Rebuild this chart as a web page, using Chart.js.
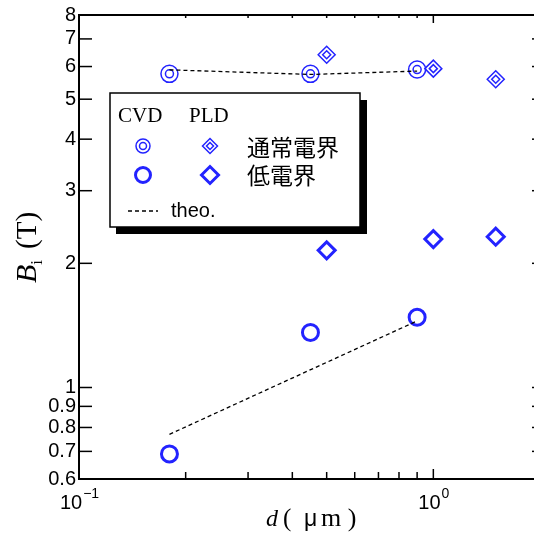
<!DOCTYPE html>
<html>
<head>
<meta charset="utf-8">
<script src="https://cdn.jsdelivr.net/npm/chart.js@4/dist/chart.umd.min.js"></script>
<style>
  html, body { margin: 0; padding: 0; overflow: hidden; background: #fff; width: 534px; height: 533px; }
  #wrap { width: 541px; height: 533px; }
</style>
</head>
<body>
<div id="wrap"><canvas id="c" width="541" height="533"></canvas></div>
<script>
// d (um) values and B_i (T) values
const cvdD = [0.18, 0.45, 0.9];
const cvdNormal = [5.76, 5.76, 5.9];
const cvdLow = [0.69, 1.36, 1.48];
const pldD = [0.5, 1.0, 1.5];
const pldNormal = [6.41, 5.93, 5.59];
const pldLow = [2.15, 2.29, 2.32];
const theoD = [0.18, 0.45, 0.9];
const theoNormal = [5.89, 5.74, 5.85];
const theoLowD = [0.18, 0.9];
const theoLow = [0.77, 1.45];

// axis ticks
const yTicks = [0.6, 0.7, 0.8, 0.9, 1, 2, 3, 4, 5, 6, 7, 8];
const xTicks = [0.1, 0.2, 0.3, 0.4, 0.5, 0.6, 0.7, 0.8, 0.9, 1, 2];
const xMajor = [0.1, 1];
const xLabelExp = ['−1', '0'];

const BLUE = 'rgb(35,35,255)';
const xy = (xs, ys) => xs.map((x, i) => ({ x: x, y: ys[i] }));

function marks(data, style, r, w) {
  return {
    data: data,
    showLine: false,
    pointStyle: style,
    pointRadius: r,
    pointBorderWidth: w,
    pointBorderColor: BLUE,
    pointBackgroundColor: 'rgba(0,0,0,0)'
  };
}
function theo(data) {
  return {
    data: data,
    showLine: true,
    borderColor: '#000',
    borderWidth: 1.3,
    borderDash: [4, 3],
    pointRadius: 0
  };
}

// little helpers for the hand drawn parts (frame, legend, titles)
function seg(ctx, x1, y1, x2, y2) {
  ctx.beginPath(); ctx.moveTo(x1, y1); ctx.lineTo(x2, y2); ctx.stroke();
}
function circ(ctx, x, y, r, w) {
  ctx.lineWidth = w; ctx.beginPath(); ctx.arc(x, y, r, 0, Math.PI * 2); ctx.stroke();
}
function diam(ctx, x, y, r, w) {
  ctx.lineWidth = w; ctx.beginPath();
  ctx.moveTo(x - r, y); ctx.lineTo(x, y - r); ctx.lineTo(x + r, y); ctx.lineTo(x, y + r);
  ctx.closePath(); ctx.stroke();
}

const frame = {
  id: 'frame',
  afterDraw(chart) {
    const { ctx, chartArea: a, scales: { x, y } } = chart;
    ctx.save();
    ctx.strokeStyle = '#000';
    ctx.lineWidth = 2;
    seg(ctx, a.left, a.top, a.right, a.top);
    seg(ctx, a.right, a.top, a.right, a.bottom);

    // ticks pointing inwards
    ctx.lineWidth = 1.5;
    yTicks.forEach(v => {
      const py = y.getPixelForValue(v);
      seg(ctx, a.left, py, a.left + 13, py);
      seg(ctx, a.right - 8, py, a.right, py);
    });
    xTicks.forEach(v => {
      const px = x.getPixelForValue(v);
      const big = xMajor.includes(v);
      seg(ctx, px, a.bottom, px, a.bottom - (big ? 10 : 7));
      seg(ctx, px, a.top, px, a.top + (big ? 8 : 3));
    });

    // x tick labels 10^-1, 10^0
    ctx.fillStyle = '#000';
    ctx.textBaseline = 'alphabetic';
    ctx.textAlign = 'left';
    xMajor.forEach((v, i) => {
      const px = x.getPixelForValue(v);
      ctx.font = '20px "Liberation Sans"';
      const wb = ctx.measureText('10').width;
      ctx.font = '14px "Liberation Sans"';
      const we = ctx.measureText(xLabelExp[i]).width;
      const x0 = px - (wb + we) / 2;
      ctx.font = '20px "Liberation Sans"';
      ctx.fillText('10', x0, 509);
      ctx.font = '14px "Liberation Sans"';
      ctx.fillText(xLabelExp[i], x0 + wb + 1, 498);
    });

    // x title: d ( μ m)
    const by = 526;
    ctx.font = 'italic 24px "Liberation Serif"';
    ctx.fillText('d', 266, by);
    ctx.font = '25px "Liberation Serif"';
    ctx.fillText('(', 283, by);
    ctx.font = '23px "Liberation Sans"';
    ctx.fillText('μ', 304, by);
    ctx.font = '26px "Liberation Serif"';
    ctx.fillText('m )', 321, by);

    // y title: B_i (T), rotated
    ctx.save();
    ctx.translate(36, 283);
    ctx.rotate(-Math.PI / 2);
    let tx = 0;
    ctx.font = 'italic 30px "Liberation Serif"';
    ctx.fillText('B', tx, 0); tx += ctx.measureText('B').width;
    ctx.font = '17px "Liberation Serif"';
    ctx.fillText('i', tx, 6); tx += ctx.measureText('i').width + 11;
    ctx.font = '29px "Liberation Serif"';
    ctx.fillText('(T)', tx, 0);
    ctx.restore();

    // legend box with shadow
    const L = 110, T = 93, R = 360, B = 227;
    ctx.fillStyle = '#000';
    ctx.fillRect(L + 6, T + 7, R - L + 1, B - T);
    ctx.fillStyle = '#fff';
    ctx.fillRect(L, T, R - L, B - T);
    ctx.strokeStyle = '#000';
    ctx.lineWidth = 1.5;
    ctx.strokeRect(L, T, R - L, B - T);

    ctx.fillStyle = '#000';
    ctx.font = '21px "Liberation Serif"';
    ctx.fillText('CVD', 118, 122);
    ctx.fillText('PLD', 189, 122);

    ctx.strokeStyle = BLUE;
    circ(ctx, 143, 146, 7, 1.5);
    circ(ctx, 143, 146, 3.5, 1.5);
    diam(ctx, 210, 146, 7.5, 1.5);
    diam(ctx, 210, 146, 3.5, 1.5);
    circ(ctx, 143, 175, 7.5, 3);
    diam(ctx, 210, 175, 8.5, 3);

    ctx.fillStyle = '#000';
    ctx.font = '23px "Noto Sans CJK JP"';
    ctx.textBaseline = 'middle';
    ctx.fillText('通常電界', 247, 147);
    ctx.fillText('低電界', 247, 175);

    ctx.strokeStyle = '#000';
    ctx.lineWidth = 1.3;
    ctx.setLineDash([4, 3]);
    seg(ctx, 128, 211, 158, 211);
    ctx.setLineDash([]);
    ctx.font = '20px "Liberation Sans"';
    ctx.fillText('theo.', 171, 211);
    ctx.restore();
  }
};

new Chart(document.getElementById('c'), {
  type: 'scatter',
  data: {
    datasets: [
      theo(xy(theoD, theoNormal)),
      theo(xy(theoLowD, theoLow)),
      marks(xy(cvdD, cvdNormal), 'circle', 8.5, 1.5),
      marks(xy(cvdD, cvdNormal), 'circle', 4, 1.5),
      marks(xy(cvdD, cvdLow), 'circle', 8, 3),
      marks(xy(pldD, pldNormal), 'rectRot', 8.5, 1.5),
      marks(xy(pldD, pldNormal), 'rectRot', 4, 1.5),
      marks(xy(pldD, pldLow), 'rectRot', 8.5, 3)
    ]
  },
  options: {
    responsive: false,
    animation: false,
    devicePixelRatio: 1,
    events: [],
    layout: { autoPadding: false, padding: { top: 13, right: 1, bottom: 0, left: 0 } },
    plugins: { legend: { display: false }, tooltip: { enabled: false } },
    scales: {
      x: {
        type: 'logarithmic',
        min: 0.1,
        max: 2,
        grid: { display: false },
        border: { display: true, color: '#000', width: 2 },
        ticks: { display: false },
        afterFit: s => { s.height = 54; }
      },
      y: {
        type: 'logarithmic',
        min: 0.6,
        max: 8,
        grid: { display: false, drawTicks: false },
        border: { display: true, color: '#000', width: 2 },
        ticks: {
          color: '#000',
          font: { family: 'Liberation Sans', size: 20 },
          padding: 3,
          autoSkip: false,
          callback: v => String(v)
        },
        afterBuildTicks: s => { s.ticks = yTicks.map(v => ({ value: v })); },
        afterFit: s => { s.width = 79; }
      }
    }
  },
  plugins: [frame]
});
</script>
</body>
</html>
